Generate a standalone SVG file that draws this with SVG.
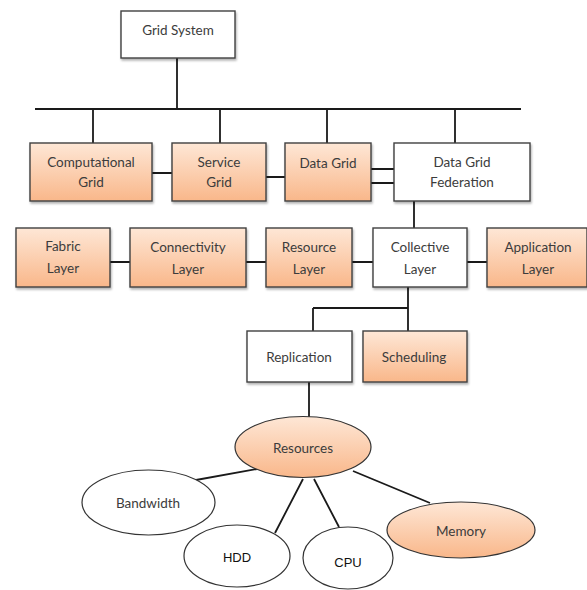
<svg xmlns="http://www.w3.org/2000/svg" width="587" height="590" viewBox="0 0 587 590">
<defs>
<linearGradient id="org" x1="0" y1="0" x2="0" y2="1">
<stop offset="0" stop-color="#fee7d6"/>
<stop offset="1" stop-color="#f9b78a"/>
</linearGradient>
<filter id="sh" x="-10%" y="-10%" width="125%" height="130%">
<feDropShadow dx="1" dy="2" stdDeviation="1.2" flood-color="#000" flood-opacity="0.3"/>
</filter>
<style>
.box{stroke:#404040;stroke-width:1.4;filter:url(#sh)}
.w{fill:#fff}
.o{fill:url(#org)}
.el{stroke:#333;stroke-width:1.2}
.t{font-family:Lato,"Open Sans",sans-serif;font-size:13.5px;fill:#3c3c3c;text-anchor:middle}
.tb{font-family:"Liberation Sans",Arial,sans-serif;font-size:13px;fill:#111;text-anchor:middle}
.c{stroke:#1a1a1a;stroke-width:1.8;fill:none}
</style>
</defs>
<rect width="587" height="590" fill="#fff"/>
<g id="connectors">
<path class="c" d="M177 58V109M35 109H521M93 109V143M220 109V143M327 109V143M455 109V143"/>
<path class="c" d="M152 173H172M266 177H285M371 169H394M371 183H394"/>
<path class="c" d="M414 201V228M110 262H130M246 262H266M352 262H373M467 262H487"/>
<path class="c" d="M408 287V331M313 308H408M313 308V331M309 382V417"/>
<path class="c" d="M196 480L257 469M303 479L275 533M314 479L339 527M353 471L430 503"/>
</g>
<g id="grid-system"><rect class="box w" x="121" y="11" width="114" height="47"/><text class="t" x="178" y="35">Grid System</text></g>
<g id="computational-grid"><rect class="box o" x="30" y="143" width="122" height="58"/><text class="t" x="91" y="167">Computational</text><text class="t" x="91" y="187">Grid</text></g>
<g id="service-grid"><rect class="box o" x="172" y="143" width="94" height="58"/><text class="t" x="219" y="167">Service</text><text class="t" x="219" y="187">Grid</text></g>
<g id="data-grid"><rect class="box o" x="285" y="143" width="86" height="58"/><text class="t" x="328" y="168">Data Grid</text></g>
<g id="data-grid-federation"><rect class="box w" x="394" y="143" width="136" height="58"/><text class="t" x="462" y="167">Data Grid</text><text class="t" x="462" y="187">Federation</text></g>
<g id="fabric-layer"><rect class="box o" x="16" y="228" width="94" height="59"/><text class="t" x="63" y="251">Fabric</text><text class="t" x="63" y="273">Layer</text></g>
<g id="connectivity-layer"><rect class="box o" x="130" y="228" width="116" height="59"/><text class="t" x="188" y="252">Connectivity</text><text class="t" x="188" y="274">Layer</text></g>
<g id="resource-layer"><rect class="box o" x="266" y="228" width="86" height="59"/><text class="t" x="309" y="252">Resource</text><text class="t" x="309" y="274">Layer</text></g>
<g id="collective-layer"><rect class="box w" x="373" y="228" width="94" height="59"/><text class="t" x="420" y="252">Collective</text><text class="t" x="420" y="274">Layer</text></g>
<g id="application-layer"><rect class="box o" x="487" y="228" width="100" height="59"/><text class="t" x="538" y="252">Application</text><text class="t" x="538" y="274">Layer</text></g>
<g id="replication"><rect class="box w" x="247" y="331" width="105" height="51"/><text class="t" x="299" y="362">Replication</text></g>
<g id="scheduling"><rect class="box o" x="363" y="331" width="104" height="51"/><text class="t" x="414" y="362">Scheduling</text></g>
<g id="resources"><ellipse class="el" cx="303" cy="447" rx="68" ry="30.5" fill="url(#org)"/><text class="t" x="303" y="453">Resources</text></g>
<g id="bandwidth"><ellipse class="el" cx="148.5" cy="502.5" rx="66.5" ry="32.5" fill="#fff"/><text class="t" x="148" y="508">Bandwidth</text></g>
<g id="hdd"><ellipse class="el" cx="237" cy="556" rx="53" ry="31" fill="#fff"/><text class="tb" x="237" y="562">HDD</text></g>
<g id="cpu"><ellipse class="el" cx="348" cy="558" rx="45" ry="31" fill="#fff"/><text class="tb" x="348" y="567">CPU</text></g>
<g id="memory"><ellipse class="el" cx="461" cy="530" rx="74" ry="28" fill="url(#org)"/><text class="t" x="461" y="536">Memory</text></g>
</svg>
